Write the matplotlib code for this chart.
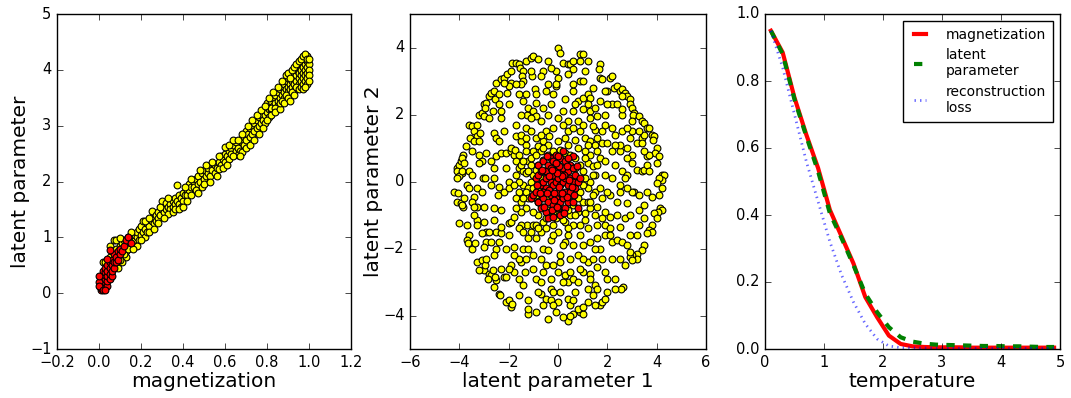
import matplotlib
matplotlib.use("Agg")
import matplotlib.pyplot as plt

plt.style.use("classic")
plt.rcParams["font.family"] = ["DejaVu Sans"]

# ---------------- Panel 1: magnetization vs latent parameter ----------------
mag_yellow = [0.02,0.04,0.05,0.06,0.06,0.07,0.07,0.08,0.08,0.09,0.09,0.10,0.10,0.11,0.11,0.12,0.12,0.13,0.13,0.14,
              0.14,0.15,0.15,0.16,0.16,0.17,0.17,0.18,0.18,0.19,0.19,0.20,0.20,0.21,0.21,0.22,0.22,0.23,0.23,0.24,
              0.25,0.25,0.26,0.26,0.27,0.27,0.28,0.28,0.29,0.30,0.30,0.31,0.31,0.32,0.32,0.33,0.34,0.34,0.35,0.35,
              0.36,0.36,0.37,0.37,0.38,0.38,0.39,0.40,0.40,0.41,0.42,0.42,0.43,0.43,0.44,0.45,0.45,0.46,0.47,0.47,
              0.48,0.49,0.50,0.50,0.51,0.52,0.52,0.53,0.54,0.55,0.55,0.56,0.57,0.58,0.58,0.59,0.60,0.60,0.61,0.62,
              0.62,0.63,0.63,0.64,0.65,0.65,0.66,0.67,0.67,0.68,0.69,0.69,0.70,0.70,0.71,0.72,0.72,0.73,0.73,0.74,
              0.74,0.75,0.75,0.76,0.76,0.77,0.77,0.78,0.79,0.79,0.80,0.80,0.81,0.81,0.82,0.82,0.83,0.83,0.84,0.84,
              0.85,0.85,0.85,0.86,0.86,0.87,0.87,0.88,0.88,0.88,0.89,0.89,0.90,0.90,0.90,0.91,0.91,0.92,0.92,0.92,
              0.93,0.93,0.93,0.94,0.94,0.94,0.95,0.95,0.95,0.95,0.96,0.96,0.96,0.96,0.97,0.97,0.97,0.97,0.98,0.98,
              0.98,0.98,0.99,0.99,0.99,0.99,1.00,1.00,0.82,0.84,0.91,0.93,0.66,0.68,0.57,0.44,0.39,0.33,0.24,0.17,
              0.13,0.11,
              0.15,0.18,0.20,0.22,0.24,0.26,0.28,0.29,0.31,0.33,0.35,0.36,0.38,0.40,0.41,0.42,0.44,0.46,0.47,0.48,
              0.49,0.50,0.51,0.53,0.54,0.56,0.57,0.59,0.60,0.61,0.62,0.64,0.64,0.66,0.67,0.68,0.70,0.71,0.72,0.73,
              0.74,0.75,0.76,0.77,0.78,0.79,0.80,0.81,0.82,0.83,0.84,0.85,0.86,0.86,0.87,0.87,0.88,0.89,0.89,0.90,
              0.90,0.91,0.91,0.92,0.92,0.93,0.93,0.94,0.94,0.95,0.95,0.96,0.96,0.97,0.97,0.98,0.98,0.99,0.99,1.00,
              1.00,0.97,0.99,0.98,1.00,0.05,0.08,0.10,0.12,0.14,0.16,0.10,0.03]
lat_yellow = [0.55,0.45,0.65,0.55,0.75,0.95,0.60,0.80,0.70,0.65,0.45,0.75,0.85,0.90,0.70,0.80,0.95,0.85,0.75,0.90,
              1.00,0.85,0.95,0.90,1.05,0.95,1.05,1.00,1.10,0.95,1.15,1.05,1.20,1.10,1.30,1.00,1.15,1.25,1.10,1.20,
              1.48,1.30,1.25,1.35,1.30,1.40,1.35,1.45,1.40,1.50,1.65,1.45,1.55,1.50,1.62,1.55,1.60,1.50,1.65,1.55,
              1.60,1.70,1.93,1.65,1.60,1.75,1.70,1.80,1.65,1.75,1.85,1.75,1.95,1.85,1.90,2.00,1.90,2.05,1.95,2.10,
              2.00,2.15,2.05,2.20,2.10,2.15,2.25,2.10,2.20,2.30,2.15,2.25,2.35,2.30,2.45,2.40,2.50,2.35,2.45,2.55,
              2.40,2.60,2.50,2.65,2.55,2.70,2.60,2.75,2.55,2.70,2.80,2.65,2.90,2.75,2.85,2.95,2.80,3.00,2.85,3.05,
              2.90,3.10,2.95,3.15,3.00,3.20,3.05,3.10,3.20,3.05,3.25,3.40,3.30,3.15,3.45,3.30,3.50,3.35,3.40,3.55,
              3.45,3.60,3.35,3.50,3.65,3.55,3.70,3.60,3.75,3.50,3.65,3.80,3.70,3.60,3.85,3.75,3.65,3.80,3.90,3.70,
              3.85,3.75,3.95,3.80,3.90,4.00,3.85,3.95,4.05,3.75,3.90,4.00,4.10,3.80,3.95,4.05,4.15,3.85,4.00,4.10,
              4.20,3.90,4.05,4.15,4.25,3.95,4.10,4.00,3.32,3.32,3.55,3.62,2.48,2.52,2.22,1.75,1.55,1.42,1.10,0.85,
              0.65,0.55,
              1.10,0.85,0.95,1.30,1.35,1.15,1.25,1.55,1.35,1.70,1.45,1.50,1.50,1.55,1.90,1.65,2.05,1.85,1.80,2.20,
              1.90,1.95,2.30,2.00,2.35,2.10,2.45,2.25,2.62,2.30,2.65,2.45,2.75,2.75,2.45,2.85,2.60,3.00,2.65,3.10,
              2.75,3.20,2.85,3.28,2.95,3.35,3.10,3.50,3.20,3.60,3.25,3.70,3.30,3.40,3.45,3.80,3.40,3.55,3.90,3.50,
              3.95,3.85,3.45,3.60,4.00,3.55,4.05,3.70,4.10,3.65,4.15,3.70,4.20,3.75,4.25,3.80,4.28,3.85,4.20,3.90,
              4.20,3.65,3.75,3.70,3.80,0.85,0.95,0.60,0.70,0.80,0.80,0.98,0.55]
mag_red = [0.01,0.01,0.01,0.01,0.01,0.01,0.02,0.02,0.02,0.02,0.02,0.02,0.02,0.03,0.03,0.03,0.03,0.03,0.03,0.03,
           0.04,0.04,0.04,0.04,0.04,0.05,0.05,0.05,0.05,0.06,0.06,0.06,0.06,0.07,0.07,0.07,0.08,0.08,0.09,0.09,
           0.10,0.10,0.11,0.12,0.13,0.14,0.15,0.05,0.04,0.00,0.00,0.00,0.02,0.03]
lat_red = [0.05,0.10,0.15,0.20,0.25,0.30,0.08,0.12,0.18,0.22,0.28,0.35,0.40,0.10,0.15,0.20,0.25,0.32,0.38,0.45,
           0.12,0.22,0.30,0.40,0.50,0.25,0.35,0.45,0.55,0.30,0.40,0.50,0.60,0.45,0.55,0.70,0.55,0.65,0.60,0.75,
           0.70,0.80,0.75,0.85,0.95,1.00,0.90,0.78,0.62,0.20,0.30,0.12,0.05,0.05]

# ---------------- Panel 2: 2D latent space ----------------
z1_yellow = [
 -4.1,-4.0,-4.1,-3.9,-4.0,-4.1,-3.95,-3.85,-3.75,-3.9,-4.2,-4.05,-4.1,-3.95,-3.85,-3.9,-3.8,-4.0,-3.7,-3.6,
 -3.7,-3.65,-3.5,-3.3,-3.1,-3.0,-2.95,-2.8,-2.7,-2.65,-2.85,-2.5,-2.4,-2.35,-2.1,-2.0,-1.9,-1.85,-3.6,-3.5,
 -3.4,-3.3,-3.55,-3.2,-3.1,-3.0,-3.0,-2.9,-2.8,-2.7,-2.6,-2.55,-2.5,-2.3,-2.2,-2.05,-1.9,-1.85,-1.7,-1.6,
 -1.55,-1.4,-1.45,-1.3,-1.1,-1.0,-0.8,-1.4,-1.9,-2.0,-2.4,-3.4,-3.8,-3.9,-3.4,-3.3,-3.3,-3.1,-3.05,-2.95,
 -2.9,-3.2,-3.0,-2.6,-2.6,-2.3,-2.5,-2.4,-2.5,-2.3,-2.1,-2.3,-2.2,-2.1,-1.9,-1.8,-1.8,-2.9,-2.8,-2.9,
 -2.9,-3.3,-3.3,-3.5,-3.4,-3.0,-3.3,-3.2,-2.6,-2.5,-2.4,-2.3,-2.3,-2.0,-2.5,-2.3,-2.1,-2.6,-2.4,-2.45,
 -2.2,-2.0,-2.0,-3.1,-2.7,-3.15,-2.95,-2.65,-2.05,-2.2,-1.6,-2.3,-2.0,-3.35,-3.2,-2.6,-2.55,
 -1.9,-1.8,-1.9,-1.75,-1.6,-1.7,-1.5,-1.6,-1.4,-1.5,-1.3,-1.2,-1.1,-1.4,-1.6,-1.7,-1.5,-1.3,-1.25,-1.5,
 -1.6,-1.4,-1.2,-1.1,-1.0,-1.4,-1.5,-1.35,-1.0,-0.9,-0.7,-0.7,-0.5,-0.6,-0.3,-0.4,-0.1,-0.3,-0.9,-1.2,
 -1.2,-1.2,-1.6,-1.6,-1.6,-1.9,-1.8,-1.7,-1.5,-1.3,-1.1,-1.25,-1.5,-1.2,-1.0,-0.9,-0.9,-0.7,-0.6,-0.4,
 -0.3,-0.2,-0.1,-0.5,-0.35,-0.6,-0.4,-0.8,-0.9,-1.3,-1.0,-0.7,-0.5,-0.6,-0.4,-0.7,-0.95,-1.05,-1.3,-1.5,
 -1.1,-1.2,-0.9,-0.8,-0.9,-0.6,-0.7,-0.5,-0.9,-0.6,-0.7,-0.4,-0.5,-0.2,-0.3,-0.2,-1.3,
 0.0,0.1,0.2,-0.1,0.0,-0.1,0.4,0.5,0.6,0.9,1.0,1.2,0.9,0.6,0.9,1.0,0.6,0.3,0.6,0.8,
 1.0,1.2,1.3,1.2,1.3,1.5,1.6,1.9,1.0,0.8,0.4,0.2,0.4,0.6,0.9,1.1,1.3,1.5,1.6,1.5,
 1.4,1.8,1.9,1.8,2.0,1.7,1.3,1.1,1.2,1.4,1.6,1.9,1.5,1.3,1.2,1.5,1.4,1.7,1.9,1.8,
 1.6,1.3,1.1,1.0,0.8,0.9,1.2,1.6,1.6,1.3,1.0,0.8,0.6,0.4,0.3,0.5,0.1,0.1,0.0,0.3,
 0.5,0.4,0.6,0.8,1.0,1.2,1.4,1.3,1.3,1.2,1.2,1.5,1.6,1.7,1.8,1.9,1.5,0.9,1.0,0.6,
 0.4,0.5,0.4,0.2,0.0,-0.2,0.1,0.6,0.8,0.5,1.0,1.9,1.8,1.6,1.9,1.5,0.6,0.5,0.3,0.0,
 0.2,-0.1,1.1,1.9,1.9,1.7,
 1.7,1.65,1.7,1.8,2.1,2.2,2.25,2.4,2.5,2.6,2.7,2.8,2.6,2.9,2.9,3.0,3.1,3.05,3.3,3.4,
 3.5,3.6,3.7,3.4,3.5,3.8,3.9,3.85,4.0,3.95,4.1,4.0,4.2,4.3,4.2,4.1,4.0,4.2,4.1,3.8,
 4.15,4.2,4.05,3.9,4.0,3.8,3.7,3.8,3.6,3.5,3.4,3.2,3.2,3.0,2.9,2.9,2.7,2.65,2.55,2.3,
 2.0,2.3,2.2,2.2,2.4,2.6,2.8,2.5,2.7,2.9,3.3,2.8,2.5,2.5,2.6,2.8,3.2,3.4,3.5,3.1,
 3.3,3.0,2.8,3.5,3.0,2.8,3.0,2.5,2.2,2.5,2.3,2.6,2.9,3.0,2.8,2.6,2.2,2.0,2.0,2.6,
 3.2,3.4,3.6,3.7,2.2,2.1,2.3,3.6,3.5,2.1,2.1,3.2,3.0,2.4,2.2,
 -1.1,-1.0,-0.9,-0.8,-0.6,-0.4,-0.2,0.1,0.3,0.5,0.7,0.9,1.0,1.1,1.0,0.9,0.8,0.6,0.4,0.2,
 0.0,-0.2,-0.4,-0.6,-0.8,-0.9,-1.0,-1.2,-1.3,-1.2,-1.1,-0.6,0.0,0.4,0.8,1.1,1.2,0.7,0.2,-0.5,
 -1.0,-0.5,-0.3,0.3,0.2,-0.7,0.6,-0.2,0.5,-0.4,0.0,-0.8,0.7,-0.9,-1.4,-1.3,-0.7,-0.2,0.3,0.7,
 1.2,1.4,1.3,0.9,0.4,-0.2,-0.8,-1.5,-1.6,-1.7,-1.8,-1.4,
 -3.6,-3.7,-3.5,-3.2,-2.8,-2.4,-1.7,-1.1,-0.3,0.4,1.1,1.9,2.4,3.0,3.3,3.7,3.6,3.5,3.3,2.9,
 2.5,2.0,1.4,0.7,-0.2,-0.8,-1.4,-2.0,-2.6,-3.0,-3.4,-3.6,
 -1.7,-0.9,0.2,1.4,2.3,2.7,2.4,1.8,1.0,-0.3,-1.2,-2.0,-2.6,-2.2,-1.1,0.6,1.7,2.8,2.0,1.5,
 0.2,-1.0,-1.7,-2.1,-1.3,0.0,1.0,1.6,2.1,0.9,-0.6,-1.8,-2.7,-3.1,-3.5,-2.7,-1.4,-0.4,0.7,1.3]
z2_yellow = [
 0.4,0.5,0.3,0.25,0.15,0.1,0.6,0.8,1.05,0.7,-0.3,-0.35,-0.6,-0.65,-0.75,-0.7,-0.5,-1.25,-1.3,-1.6,
 -1.75,-1.85,-2.0,-2.4,-2.35,-2.65,-2.5,-2.75,-2.8,-2.65,-2.9,-2.95,-3.35,-3.4,-3.6,-3.55,-3.75,-3.65,1.7,1.65,
 1.5,1.35,1.3,2.0,2.05,1.95,2.3,2.35,2.55,2.65,2.7,2.45,2.95,3.05,3.1,3.2,3.3,3.55,3.55,3.5,
 3.4,3.3,3.15,3.6,3.7,3.75,3.65,3.0,2.95,2.85,2.6,1.2,0.55,0.3,-0.45,-0.75,-0.2,0.6,0.1,0.1,
 0.85,0.55,-0.75,-0.8,-1.15,-0.85,-1.5,-1.8,-2.0,-1.55,-2.0,-2.6,-2.85,-2.85,-2.5,-2.7,-1.95,-1.5,-1.5,-1.8,
 -2.3,-1.15,-1.3,-0.6,-0.75,-1.95,1.7,0.8,1.45,1.3,1.2,1.9,2.1,2.3,0.75,0.85,0.85,0.4,-0.15,-0.4,
 -0.3,0.0,-0.2,-1.55,-0.1,1.45,2.2,2.1,2.65,2.95,2.6,-1.35,-1.25,-1.85,-2.65,-3.15,-2.85,
 0.9,0.8,1.0,0.95,0.8,0.6,1.2,0.4,0.3,0.5,0.25,0.6,0.5,-0.1,-0.3,-0.5,-0.6,-0.8,-1.3,-1.3,
 -1.4,-1.5,-1.7,-1.5,-1.3,-2.0,-2.4,-2.7,-2.6,-2.9,-3.0,-3.35,-3.5,-3.7,-3.55,-4.1,-3.9,-3.2,-3.9,-3.95,
 -3.8,-3.55,-3.4,-2.9,-2.3,-1.2,-1.05,1.35,1.4,1.6,1.5,2.0,2.0,2.2,2.1,2.35,1.95,1.8,2.2,2.0,
 2.3,2.6,2.85,1.5,1.35,1.2,1.1,1.05,1.3,1.1,0.9,0.9,2.7,3.3,3.6,3.15,2.75,3.15,2.6,2.9,
 -0.5,-0.2,-0.5,-1.0,-1.3,-1.2,-1.5,-1.4,-1.7,-2.0,-2.3,-2.05,-2.5,-2.5,-1.75,-1.3,-2.3,
 4.0,3.85,3.55,3.3,3.1,2.9,3.5,3.5,3.6,3.8,3.8,3.6,3.6,3.35,3.0,3.0,2.7,2.45,2.1,2.4,
 2.5,2.6,2.5,2.3,2.1,2.2,1.95,2.0,2.15,1.8,1.8,1.7,1.5,1.6,1.5,1.3,1.2,1.1,1.3,1.55,
 1.65,1.5,1.7,1.15,1.15,0.7,0.8,0.9,0.55,0.45,0.5,0.6,0.2,0.0,-0.2,-0.3,-0.4,-0.2,0.2,-0.5,
 -0.75,-0.8,-0.95,-0.6,-0.9,-1.3,-1.4,-1.3,-1.7,-1.8,-1.9,-2.2,-1.9,-1.6,-1.8,-2.3,-2.2,-2.4,-2.7,-2.8,
 -2.7,-3.0,-2.9,-3.0,-2.7,-2.4,-2.3,-2.75,-2.9,-3.2,-3.6,-3.1,-3.2,-3.7,-3.6,-3.5,-3.7,-3.9,-3.95,-3.95,
 -3.5,-3.7,-4.15,-4.05,-3.6,-3.7,-3.3,-3.55,-3.8,-4.0,-3.75,-2.7,-2.3,-2.55,-1.3,-1.0,-1.3,-1.0,-1.2,-1.5,
 -1.9,-1.1,-1.15,-0.9,-1.6,-2.0,
 3.5,3.35,3.1,3.05,3.1,3.15,2.8,2.85,2.7,2.75,2.65,2.55,2.55,2.45,2.3,2.2,2.05,2.0,1.95,1.8,
 1.75,1.6,1.6,1.3,1.4,1.4,1.35,1.25,1.0,0.85,0.75,0.55,0.2,0.2,0.05,0.1,-0.05,-0.2,-0.4,-0.45,
 -0.8,-0.85,-0.9,-0.95,-1.1,-1.3,-1.45,-1.5,-1.55,-1.9,-2.05,-2.15,-2.3,-2.2,-2.25,-2.1,-2.5,-3.15,-3.2,-3.2,
 -3.3,-2.9,-2.3,-1.8,-1.75,-1.8,-1.9,-1.35,-1.1,-1.0,-0.85,-0.65,-0.3,-0.1,0.3,0.2,0.35,0.3,0.35,-0.3,
 -0.4,-0.3,-0.2,-1.1,0.8,0.7,0.55,0.9,0.9,1.1,1.4,1.5,1.3,1.5,1.6,2.0,2.3,2.3,2.7,2.15,
 1.15,1.15,0.75,0.8,0.1,-0.4,0.5,0.5,0.9,-1.05,-1.4,-1.6,-2.35,-0.6,1.6,
 0.0,0.2,0.35,0.5,0.65,0.8,0.9,0.95,0.85,0.8,0.7,0.5,0.3,0.1,-0.1,-0.3,-0.5,-0.7,-0.85,-0.9,
 -0.95,-0.9,-0.85,-0.75,-0.6,-0.4,-0.2,0.3,-0.3,-0.5,0.7,1.0,1.2,1.1,1.0,0.7,-0.6,-1.0,-1.15,-1.1,
 -0.9,0.3,-0.3,0.3,-0.4,0.1,0.1,0.5,-0.4,-0.5,0.4,-0.2,0.4,0.8,0.6,0.9,1.4,1.6,1.3,1.25,
 1.1,0.2,-0.6,-1.6,-1.4,-1.6,-1.4,-0.9,0.0,0.2,-0.1,-0.5,
 0.3,-0.1,0.9,1.2,1.9,2.3,2.9,3.3,3.4,3.2,3.3,2.7,2.3,1.8,1.5,0.3,-0.3,-0.7,-1.3,-1.6,
 -2.3,-2.9,-3.4,-3.3,-3.3,-3.3,-3.1,-2.6,-2.2,-1.2,-1.0,-0.2,
 1.7,2.6,2.1,2.8,1.1,0.1,-1.0,-1.1,-2.3,-2.9,-2.0,-1.6,0.1,1.5,1.9,2.9,2.4,1.0,-0.3,-2.0,
 -3.0,-2.2,-0.8,0.4,1.3,1.9,1.7,0.9,-1.6,-2.6,-2.7,-2.2,-1.8,-0.3,0.2,0.6,2.4,2.9,2.3,1.9]
z1_red = [-1.1,-1.0,-0.9,-0.9,-0.8,-0.8,-0.8,-0.7,-0.7,-0.7,-0.6,-0.6,-0.6,-0.5,-0.5,-0.5,-0.4,-0.4,-0.4,-0.4,
          -0.3,-0.3,-0.3,-0.3,-0.2,-0.2,-0.2,-0.2,-0.1,-0.1,-0.1,-0.1,0.0,0.0,0.0,0.0,0.1,0.1,0.1,0.1,
          0.1,0.2,0.2,0.2,0.2,0.3,0.3,0.3,0.3,0.4,0.4,0.4,0.5,0.5,0.5,0.6,0.6,0.6,0.7,0.7,
          0.8,0.8,0.9,0.6,-0.6,-0.5,-0.35,-0.15,0.05,0.25,0.15,-0.05,-0.25,0.35,-0.45,0.45,-0.15,0.05,-0.35,0.15,
          -0.65,0.55,-0.25,0.25,-0.05,0.75,-0.85,-0.1,0.4,-0.55,0.65,0.0,-0.75,-0.45,0.35,-0.2]
z2_red = [-0.5,-0.4,-0.3,0.1,-0.6,0.2,0.5,-0.8,-0.1,0.3,-0.5,0.0,0.6,-0.9,-0.2,0.3,-0.6,0.1,0.5,-1.1,
          -0.4,0.0,0.4,0.7,-0.7,-0.1,0.2,0.6,-0.5,0.0,0.3,0.8,-0.8,-0.3,0.1,0.5,-1.0,-0.6,-0.1,0.3,
          0.7,-0.5,0.0,0.4,0.9,-0.8,-0.3,0.1,0.6,-0.6,-0.1,0.3,-0.3,0.1,0.5,-0.6,0.0,0.4,-0.2,0.2,
          0.0,-0.8,0.1,0.75,-0.3,0.1,-0.25,-0.35,-0.15,0.2,0.15,0.25,0.35,-0.45,-0.35,0.05,-0.55,0.45,0.15,-0.35,
          0.35,-0.15,-0.85,-0.95,-0.75,0.45,-0.1,0.55,0.7,-0.75,-0.4,0.75,-0.35,0.75,0.45,-1.05]

# ---------------- Panel 3: curves vs temperature ----------------
temperature = [0.1,0.3,0.5,0.7,0.9,1.1,1.3,1.5,1.7,1.9,2.1,2.3,2.5,2.7,2.9,3.1,3.3,3.5,3.7,3.9,4.1,4.3,4.5,4.7,4.9]
magnetization = [0.95,0.885,0.75,0.64,0.54,0.415,0.335,0.255,0.155,0.095,0.04,0.015,0.008,0.006,0.005,0.005,0.005,
                 0.004,0.004,0.004,0.004,0.004,0.004,0.004,0.004]
latent_param = [0.95,0.88,0.745,0.635,0.53,0.405,0.33,0.25,0.165,0.11,0.065,0.035,0.022,0.016,0.013,0.012,0.011,
                0.010,0.009,0.009,0.008,0.008,0.007,0.006,0.006]
recon_loss = [0.95,0.84,0.70,0.56,0.44,0.32,0.22,0.14,0.075,0.03,0.009,0.004,0.003,0.003,0.002,0.002,0.002,
              0.002,0.002,0.002,0.002,0.002,0.002,0.002,0.002]

W, H = 1071, 398
fig = plt.figure(figsize=(W / 100, H / 100), dpi=100, facecolor="white")

bottom = (H - 349) / H
height = 335 / H
ax1 = fig.add_axes([57 / W, bottom, 294 / W, height])
ax2 = fig.add_axes([410 / W, bottom, 296 / W, height])
ax3 = fig.add_axes([765 / W, bottom, 295 / W, height])

tick_fs = 10.5
label_fs = 14.5

sc_kw = dict(s=24, edgecolors="black", linewidths=0.8)

ax1.scatter(mag_yellow, lat_yellow, c="yellow", **sc_kw)
ax1.scatter(mag_red, lat_red, c="red", **sc_kw)
ax1.set_xlim(-0.2, 1.2)
ax1.set_ylim(-1, 5)
ax1.set_xticks([-0.2, 0.0, 0.2, 0.4, 0.6, 0.8, 1.0, 1.2])
ax1.set_yticks([-1, 0, 1, 2, 3, 4, 5])
ax1.set_xlabel("magnetization", fontsize=label_fs, labelpad=2)
ax1.set_ylabel("latent parameter", fontsize=label_fs, labelpad=0)

ax2.scatter(z1_yellow, z2_yellow, c="yellow", **sc_kw)
ax2.scatter(z1_red, z2_red, c="red", **sc_kw)
ax2.set_xlim(-6, 6)
ax2.set_ylim(-5, 5)
ax2.set_xticks([-6, -4, -2, 0, 2, 4, 6])
ax2.set_yticks([-4, -2, 0, 2, 4])
ax2.set_xlabel("latent parameter 1", fontsize=label_fs, labelpad=2)
ax2.set_ylabel("latent parameter 2", fontsize=label_fs, labelpad=0)

ax3.plot(temperature, magnetization, color="red", linestyle="-", lw=3, label="magnetization")
ax3.plot(temperature, latent_param, color="green", linestyle="--", lw=3, label="latent\nparameter")
ax3.plot(temperature, recon_loss, color="blue", linestyle=":", lw=2, alpha=0.6, label="reconstruction\nloss")
ax3.set_xlim(0, 5)
ax3.set_ylim(0, 1.0)
ax3.set_xticks([0, 1, 2, 3, 4, 5])
ax3.set_yticks([0.0, 0.2, 0.4, 0.6, 0.8, 1.0])
ax3.set_xlabel("temperature", fontsize=label_fs, labelpad=2)
leg = ax3.legend(loc="upper right", fontsize=10, handlelength=1.5, handletextpad=1.1, frameon=True,
                 fancybox=False, borderpad=0.5, labelspacing=0.45, borderaxespad=0.5)
leg.get_frame().set_edgecolor("black")

for ax in (ax1, ax2, ax3):
    ax.tick_params(labelsize=tick_fs)

fig.savefig("out.png", dpi=100, facecolor="white")
